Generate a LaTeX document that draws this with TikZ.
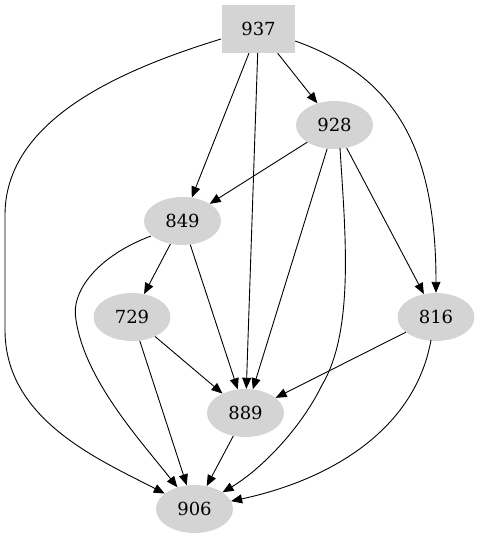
\documentclass[tikz,border=0pt]{standalone}
\usepackage{fontspec}
\setmainfont{DejaVu Serif}
\usetikzlibrary{arrows.meta,shapes.geometric}
\begin{document}
\begin{tikzpicture}[x=1pt,y=-1pt,
  nd/.style={ellipse,fill=black!17,draw=none,minimum width=77pt,minimum height=48pt,inner sep=0pt,font=\fontsize{18}{21}\selectfont},
  bx/.style={rectangle,fill=black!17,draw=none,minimum width=73pt,minimum height=48pt,inner sep=0pt,font=\fontsize{18}{21}\selectfont},
  ed/.style={draw=black,line width=0.9pt,-{Triangle[length=11pt,width=9pt]}}]
\useasboundingbox (0,0) rectangle (479,539);
\node[bx] (n937) at (258.5,29) {937};
\node[nd] (n928) at (334.5,125) {928};
\node[nd] (n849) at (182.5,221) {849};
\node[nd] (n729) at (132,317) {729};
\node[nd] (n816) at (436,317) {816};
\node[nd] (n889) at (245.5,413) {889};
\node[nd] (n906) at (194.5,509) {906};
\coordinate (c1) at (5,215);
\coordinate (c2) at (5,330);
\draw[line width=0.9pt] (221,39) .. controls (120,70) and (5,120) .. (c1) -- (c2);
\draw[ed] (c2) .. controls (5,420) and (100,460) .. (n906);
\draw[ed] (n937) -- (n849);
\draw[ed] (n937) -- (n889);
\draw[ed] (n937) -- (n928);
\draw[ed] (n937.east) ++(0,12) .. controls (390,75) and (436,140) .. (n816);
\draw[ed] (n928) -- (n849);
\draw[ed] (n928) -- (n889);
\draw[ed] (n928) -- (n816);
\draw[ed] (340,148) .. controls (345,230) and (355,330) .. (322,385) .. controls (300,430) and (260,470) .. (n906);
\draw[ed] (n849) -- (n729);
\draw[ed] (n849) -- (n889);
\draw[ed] (151,236) .. controls (100,255) and (70,290) .. (76,320) .. controls (85,380) and (140,440) .. (n906);
\draw[ed] (n729) -- (n889);
\draw[ed] (n729) -- (n906);
\draw[ed] (n816) -- (n889);
\draw[ed] (431,340) .. controls (415,430) and (330,480) .. (n906);
\draw[ed] (n889) -- (n906);
\end{tikzpicture}
\end{document}
